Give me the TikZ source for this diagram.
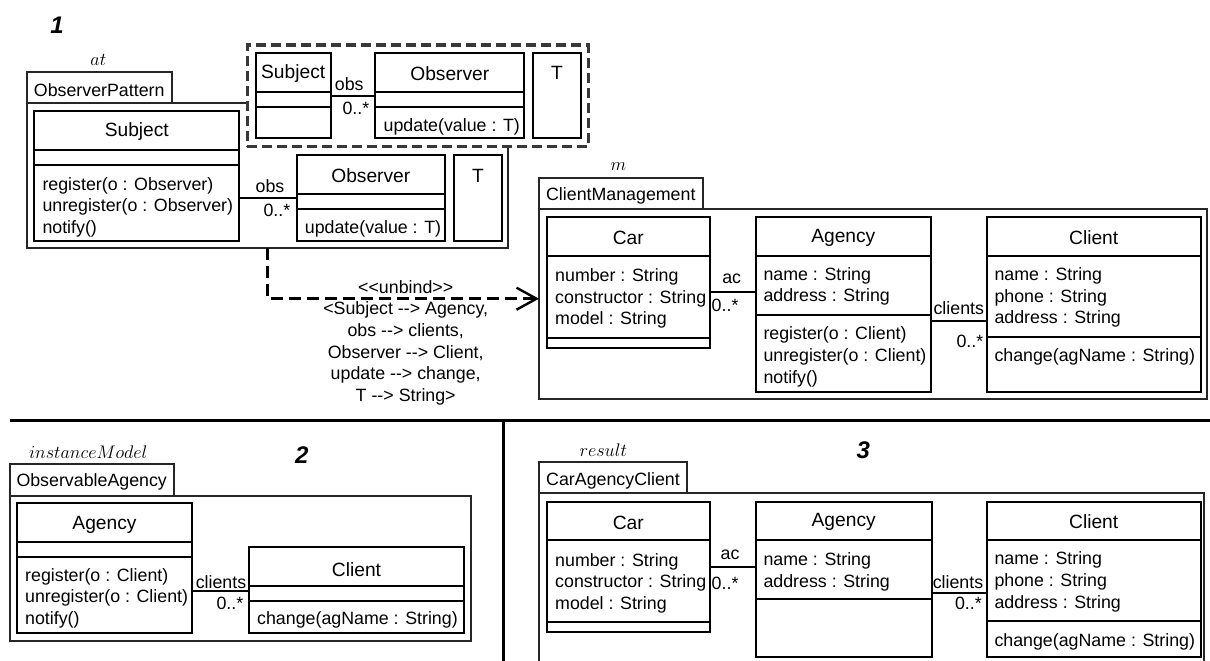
\RequirePackage{fix-cm}
\documentclass[tikz,border=0pt]{standalone}
\usepackage{fontspec}
\setmainfont{Liberation Sans}
\usetikzlibrary{arrows.meta}
\newcommand\arr{\mbox{-}\mbox{-}\mbox{>}}
\newcommand\ucls[5]{\node[cls, minimum width={(#4)-(#2)}, minimum height={(#5)-(#3)}] (#1) at (#2,#3) {};}
\newcommand\csep[3]{\draw[cls line] (#1,#3) -- (#2,#3);}
\begin{document}
\begin{tikzpicture}[x=1pt,y=-1pt,
  cls/.style={draw=black, line width=1.7pt, inner sep=0pt, outer sep=0pt, anchor=north west},
  cls line/.style={line width=1.7pt},
  pkg/.style={draw=black!85, line width=2pt, inner sep=0pt, outer sep=0pt, anchor=north west},
  nm/.style={font=\fontsize{19.2}{23}\selectfont, inner sep=0pt},
  attr/.style={font=\fontsize{17.8}{21.7}\selectfont, inner sep=0pt, align=left, anchor=west},
  role/.style={font=\fontsize{17.8}{21.7}\selectfont, inner sep=0pt},
  pname/.style={font=\fontsize{17.8}{21.7}\selectfont, inner sep=0pt},
  mlbl/.style={font=\fontsize{18.2}{20}\selectfont, inner sep=0pt},
  num/.style={font=\fontsize{24}{28}\selectfont\bfseries\itshape, inner sep=0pt},
  assoc/.style={line width=1.7pt},
  sepline/.style={line width=3.2pt},
  grp/.style={draw=black!78, fill=white, line width=3.2pt, dash pattern=on 10pt off 5pt, inner sep=0pt, outer sep=0pt, anchor=north west},
  dep/.style={line width=2.8pt, dash pattern=on 12pt off 6pt, -{Straight Barb[length=20pt,width=22pt,line width=2.4pt]}},
]
\useasboundingbox (0,0) rectangle (1210,661);

% ---------------- panel 1 : ObserverPattern
\node[num] (n1) at (57,25) {1};
\node[mlbl] (lat) at (98.3,60) {$at$};
\node[pkg, minimum width=145, minimum height=31] (opt) at (26.7,71.7) {};
\node[pname] (optx) at (99.2,90.5) {ObserverPattern};
\node[pkg, minimum width={508.3-26.7}, minimum height={248.3-102.7}] (op) at (26.7,102.7) {};

\ucls{cs}{34.3}{111}{239.3}{241}
\csep{34.3}{239.3}{150}\csep{34.3}{239.3}{165}
\node[nm] (csn) at (136.8,131.7) {Subject};
\node[attr] (csm) at (42.3,207.3) {register(o : Observer)\\unregister(o : Observer)\\notify()};

\ucls{co}{296.7}{155}{445}{240.7}
\csep{296.7}{445}{194}\csep{296.7}{445}{209}
\node[nm] (con) at (370.8,175.7) {Observer};
\node[attr] (com) at (304.7,229) {update(value : T)};
\ucls{ct}{454.3}{155}{501.7}{240.7}
\node[nm] (ctn) at (478,175.7) {T};
\draw[assoc] (cs.east |- 0,198.3) -- (co.west |- 0,198.3);
\node[role] (r1) at (270,186.5) {obs};
\node[role, anchor=east] (r2) at (290.5,210.5) {0..*};

% dashed parameter box
\node[grp, minimum width={588.3-247.3}, minimum height={146.7-45}] (grp) at (247.3,45) {};
\ucls{gs}{255.7}{52.7}{330.7}{138.3}
\csep{255.7}{330.7}{91.7}\csep{255.7}{330.7}{106.7}
\node[nm] (gsn) at (293.2,73.3) {Subject};
\ucls{go}{375.3}{52.7}{524.3}{138.3}
\csep{375.3}{524.3}{91.7}\csep{375.3}{524.3}{106.7}
\node[nm] (gon) at (449.8,73.3) {Observer};
\node[attr] (gom) at (383.5,126.7) {update(value : T)};
\ucls{gt}{533.3}{52.7}{580.7}{138.3}
\node[nm] (gtn) at (557,73.3) {T};
\draw[assoc] (gs.east |- 0,95.7) -- (go.west |- 0,95.7);
\node[role] (r3) at (349.3,84.3) {obs};
\node[role, anchor=east] (r4) at (369.5,108.5) {0..*};

% ---------------- ClientManagement
\node[mlbl] (lm) at (618.3,166.7) {$m$};
\node[pkg, minimum width={702.7-539}, minimum height={209-178.3}] (cmt) at (539,178.3) {};
\node[pname] (cmtx) at (620.8,196) {ClientManagement};
\node[pkg, minimum width={1206.7-539}, minimum height={399.3-209}] (cm) at (539,209) {};

\ucls{car}{546.7}{217}{710}{347.7}
\csep{546.7}{710}{256.3}\csep{546.7}{710}{338.3}
\node[nm] (carn) at (628.3,237.8) {Car};
\node[attr] (cara) at (555,298.5) {number : String\\constructor : String\\model : String};

\ucls{ag}{755.7}{217}{931}{391.7}
\csep{755.7}{931}{256.3}\csep{755.7}{931}{315}
\node[nm] (agn) at (843.3,237.5) {Agency};
\node[attr] (aga) at (763.3,286.5) {name : String\\address : String};
\node[attr] (agm) at (763.3,356.7) {register(o : Client)\\unregister(o : Client)\\notify()};

\ucls{cl}{986.7}{217}{1200.7}{391.7}
\csep{986.7}{1200.7}{256.3}\csep{986.7}{1200.7}{336.7}
\node[nm] (cln) at (1093.7,237.5) {Client};
\node[attr] (cla) at (994.3,297.5) {name : String\\phone : String\\address : String};
\node[attr] (clm) at (994.3,356.7) {change(agName : String)};

\draw[assoc] (car.east |- 0,291.7) -- (ag.west |- 0,291.7);
\node[role] (r5) at (731.7,278.3) {ac};
\node[role, anchor=west] (r6) at (711.5,305) {0..*};
\draw[assoc] (ag.east |- 0,321) -- (cl.west |- 0,321);
\node[role] (r7) at (958.8,308.3) {clients};
\node[role, anchor=east] (r8) at (983.5,341.7) {0..*};

% unbind dependency
\draw[dep] (op.south -| 267.3,0) |- (cm.west |- 0,298.7);
\node[role] (ub) at (405.7,287.3) {\mbox{<}\mbox{<}unbind\mbox{>}\mbox{>}};
\node[role, align=center] (ubm) at (405.7,353.5) {<Subject \arr{} Agency,\\obs \arr{} clients,\\Observer \arr{} Client,\\update \arr{} change,\\T \arr{} String>};

% ---------------- separators
\coordinate (sl) at (10,420.3);
\coordinate (sr) at (1210,420.3);
\coordinate (vt) at (503.8,420.3);
\coordinate (vb) at (503.8,661);
\draw[sepline] (sl) -- (sr);
\draw[sepline] (vt) -- (vb);

% ---------------- panel 2
\node[mlbl] (lim) at (88.3,451.7) {$instanceModel$};
\node[num] (n2) at (301.7,455) {2};
\node[pkg, minimum width={174-10}, minimum height={496-464.3}] (oat) at (10,464.3) {};
\node[pname] (oatx) at (91.7,481.7) {ObservableAgency};
\node[pkg, minimum width={471-10}, minimum height={640.7-496}] (oa) at (10,496) {};
\ucls{iag}{16.7}{502.7}{192.3}{632.7}
\csep{16.7}{192.3}{541.7}\csep{16.7}{192.3}{556.7}
\node[nm] (iagn) at (104.5,525) {Agency};
\node[attr] (iagm) at (25,598.3) {register(o : Client)\\unregister(o : Client)\\notify()};
\ucls{icl}{249}{546.7}{464}{632.7}
\csep{249}{464}{585.7}\csep{249}{464}{600.7}
\node[nm] (icln) at (356.5,569.3) {Client};
\node[attr] (iclm) at (257,620) {change(agName : String)};
\draw[assoc] (iag.east |- 0,591) -- (icl.west |- 0,591);
\node[role] (r9) at (221,581.7) {clients};
\node[role, anchor=east] (r10) at (243.5,603.3) {0..*};

% ---------------- panel 3
\node[mlbl] (lres) at (603.3,450) {$result$};
\node[num] (n3) at (863.3,450) {3};
\node[pkg, minimum width={686.7-539.3}, minimum height={492.7-462.3}] (rpt) at (539.3,462.3) {};
\node[pname] (rptx) at (613,481) {CarAgencyClient};
\node[pkg, minimum width={1204-539.3}, minimum height=200] (rp) at (539.3,492.7) {};
\ucls{rcar}{546.7}{501.7}{710}{632.3}
\csep{546.7}{710}{540}\csep{546.7}{710}{621.7}
\node[nm] (rcarn) at (628.3,522.5) {Car};
\node[attr] (rcara) at (555,583.3) {number : String\\constructor : String\\model : String};
\ucls{rag}{755.7}{501.7}{931.7}{656.7}
\csep{755.7}{931.7}{540}\csep{755.7}{931.7}{599}
\node[nm] (ragn) at (843.7,521.7) {Agency};
\node[attr] (raga) at (763.3,572.2) {name : String\\address : String};
\ucls{rcl}{986.7}{501.7}{1200.7}{656.7}
\csep{986.7}{1200.7}{540}\csep{986.7}{1200.7}{621}
\node[nm] (rcln) at (1093.7,521.7) {Client};
\node[attr] (rcla) at (994.3,581.7) {name : String\\phone : String\\address : String};
\node[attr] (rclm) at (994.3,641.7) {change(agName : String)};
\draw[assoc] (rcar.east |- 0,567.3) -- (rag.west |- 0,567.3);
\node[role] (r11) at (730,554.3) {ac};
\node[role, anchor=west] (r12) at (711.5,583.3) {0..*};
\draw[assoc] (rag.east |- 0,593.3) -- (rcl.west |- 0,593.3);
\node[role] (r13) at (958,581.7) {clients};
\node[role, anchor=east] (r14) at (982,603.3) {0..*};
\end{tikzpicture}
\end{document}
